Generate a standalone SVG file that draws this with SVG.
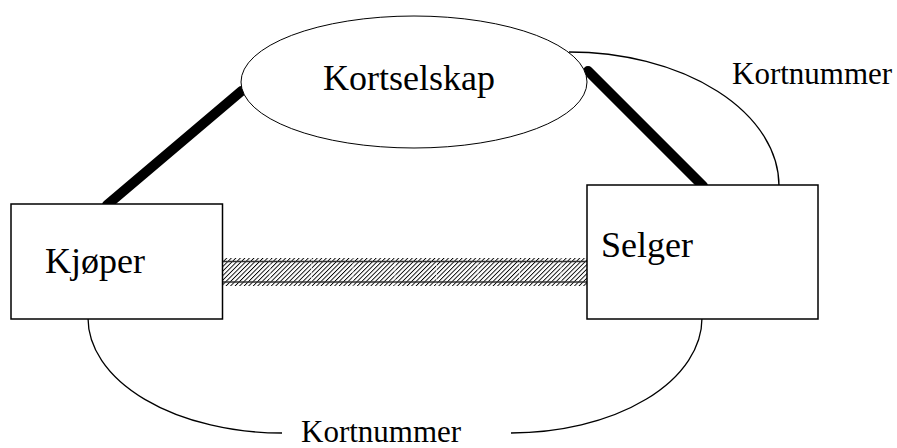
<svg xmlns="http://www.w3.org/2000/svg" width="897" height="448" viewBox="0 0 897 448">
  <style>
    .label { font-family: "Liberation Serif", "Times New Roman", serif; fill: #000; }
    .big { font-size: 36px; }
    .small { font-size: 31px; }
    .box { fill: #fff; stroke: #000; stroke-width: 1.5; }
    .oval { fill: #fff; stroke: #000; stroke-width: 1; }
    .thin { fill: none; stroke: #000; stroke-width: 1.3; }
    .thick { fill: none; stroke: #000; stroke-width: 10; stroke-linecap: round; }
  </style>
  <defs>
    <pattern id="hatch" patternUnits="userSpaceOnUse" width="3.2" height="3.2" patternTransform="rotate(45)">
      <rect x="0" y="0" width="0.9" height="3.2" fill="#000"/>
    </pattern>
  </defs>
  <rect width="897" height="448" fill="#fff"/>

  <!-- connectors -->
  <g id="connectors">
    <!-- hatched channel between buyer and seller -->
    <g id="channel">
      <rect x="219" y="258" width="368" height="28" fill="url(#hatch)"/>
      <g stroke="#fff" stroke-width="1" opacity="0.6">
        <line x1="270" y1="258" x2="270" y2="286"/>
        <line x1="311.5" y1="258" x2="311.5" y2="286"/>
        <line x1="353" y1="258" x2="353" y2="286"/>
        <line x1="395" y1="258" x2="395" y2="286"/>
        <line x1="436.5" y1="258" x2="436.5" y2="286"/>
        <line x1="478" y1="258" x2="478" y2="286"/>
        <line x1="519.5" y1="258" x2="519.5" y2="286"/>
        <line x1="561" y1="258" x2="561" y2="286"/>
      </g>
      <line x1="219" y1="261.5" x2="587" y2="261.5" stroke="#333" stroke-width="1.5"/>
      <line x1="219" y1="282" x2="587" y2="282" stroke="#333" stroke-width="1.5"/>
    </g>
    <path class="thick" d="M107,205 L241.5,91"/>
    <path class="thick" d="M588,71 L703,186"/>
    <path class="thin" d="M569,52 A210,134 0 0 1 779,186"/>
    <path class="thin" d="M88,318 A194,115 0 0 0 282,433"/>
    <path class="thin" d="M511,433 A191,115 0 0 0 702,318"/>
  </g>

  <g id="kortselskap">
    <ellipse class="oval" cx="414" cy="82" rx="173" ry="66"/>
    <text class="label big" x="323" y="90">Kortselskap</text>
  </g>

  <g id="kjoper">
    <rect class="box" x="11" y="204" width="211.5" height="115"/>
    <text class="label big" x="45" y="273">Kjøper</text>
  </g>

  <g id="selger">
    <rect class="box" x="587" y="185" width="231" height="134"/>
    <text class="label big" x="601" y="257">Selger</text>
  </g>

  <text class="label small" x="732" y="84">Kortnummer</text>
  <text class="label small" x="301" y="442">Kortnummer</text>
</svg>
